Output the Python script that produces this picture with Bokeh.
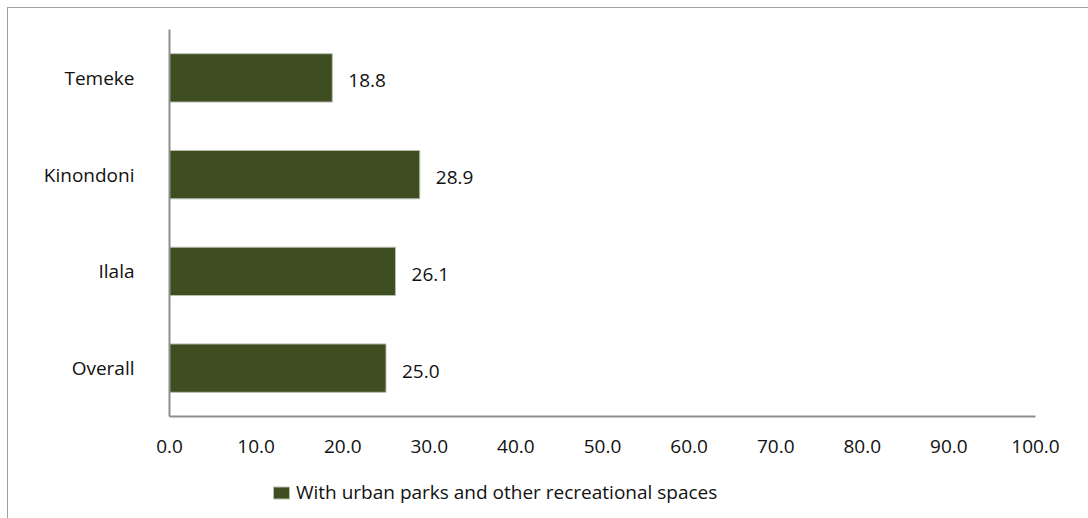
from bokeh.plotting import figure
from bokeh.layouts import column
from bokeh.models import (ColumnDataSource, FactorRange, Range1d, LabelSet, Legend,
                          LegendItem, FixedTicker, CustomJSTickFormatter)
from bokeh.core.properties import value
from bokeh.embed import file_html
from bokeh.resources import INLINE

categories = ["Overall", "Ilala", "Kinondoni", "Temeke"]
values = [25.0, 26.1, 28.9, 18.8]
series_name = "With urban parks and other recreational spaces"
x_ticks = [0, 10, 20, 30, 40, 50, 60, 70, 80, 90, 100]

BAR = "#3e4e21"
AXIS = "#8e8e8e"
FONT = "Open Sans"
TXT = "#111111"

src = ColumnDataSource(dict(cat=categories, val=values,
                            lbl=[f"{v:.1f}" for v in values]))

p = figure(frame_width=866, frame_height=387, output_backend="svg", toolbar_location=None,
           y_range=FactorRange(factors=categories, range_padding=0),
           x_range=Range1d(0, 100),
           min_border_left=161, min_border_right=53, min_border_top=21,
           min_border_bottom=60)
p.outline_line_color = None
p.grid.grid_line_color = None
p.background_fill_color = "white"
p.border_fill_color = "white"

bar_style = dict(fill_color=BAR, line_color="#b9bfb0", line_width=1)
r = p.hbar(y="cat", right="val", left=0, height=0.5, source=src, **bar_style)

labels = LabelSet(x="val", y="cat", text="lbl", source=src, x_offset=16, y_offset=-3,
                  text_baseline="middle", text_font=value(FONT), text_font_size="19px",
                  text_color=TXT)
p.add_layout(labels)

for ax in (p.xaxis[0], p.yaxis[0]):
    ax.axis_line_color = AXIS
    ax.axis_line_width = 2
    ax.major_tick_line_color = None
    ax.minor_tick_line_color = None
    ax.major_label_text_font = FONT
    ax.major_label_text_color = TXT

p.xaxis.ticker = FixedTicker(ticks=x_ticks)
p.xaxis.formatter = CustomJSTickFormatter(code="return tick.toFixed(1);")
p.xaxis.major_label_text_font_size = "19px"
p.xaxis.major_label_standoff = 17
p.yaxis.major_label_text_font_size = "19px"
p.yaxis.major_label_standoff = 29

# legend strip below the chart (its renderer is hidden; only the legend swatch shows)
lf = figure(width=1080, height=42, output_backend="svg", toolbar_location=None,
            x_range=Range1d(0, 1), y_range=Range1d(0, 1), min_border=0,
            x_axis_location=None, y_axis_location=None)
lf.outline_line_color = None
lf.grid.grid_line_color = None
lf.border_fill_color = "white"
lf.background_fill_color = "white"
lr = lf.hbar(y="val", right="val", left=0, height=0.5, source=src, visible=False,
             **bar_style)

legend = Legend(items=[LegendItem(label=series_name, renderers=[lr])],
                location=(102, 13), orientation="horizontal",
                glyph_width=20, glyph_height=15, label_height=15,
                label_text_font=FONT, label_text_font_size="19px",
                label_text_color=TXT, label_standoff=5,
                padding=0, margin=0, border_line_color=None,
                background_fill_alpha=0, inactive_fill_alpha=0)
lf.add_layout(legend)

layout = column(p, lf, spacing=0,
                styles={"border-left": "1px solid #a0a0a0", "border-top": "1px solid #a0a0a0",
                        "margin-left": "7px", "margin-top": "7px"})

open("out.html", "w").write(file_html(layout, INLINE))
